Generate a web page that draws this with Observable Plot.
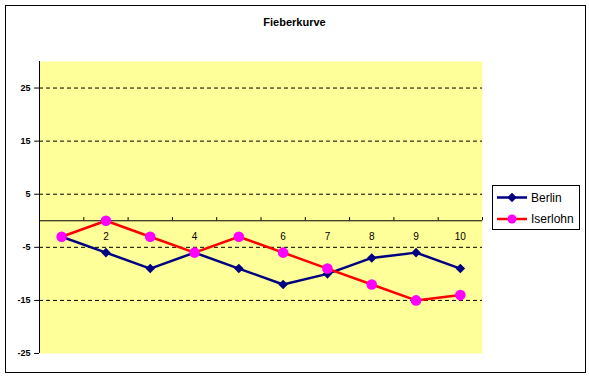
<!DOCTYPE html>
<html>
<head>
<meta charset="utf-8">
<script src="https://cdn.jsdelivr.net/npm/d3@7"></script>
<script src="https://cdn.jsdelivr.net/npm/@observablehq/plot@0.6"></script>
<style>
  html, body { margin: 0; padding: 0; background: #fff; }
  #wrap { position: relative; width: 589px; height: 378px; font-family: "Liberation Sans", Arial, sans-serif; }
  #border { position: absolute; left: 5px; top: 5px; width: 581px; height: 368px; box-sizing: border-box; border: 1px solid #000; pointer-events: none; }
  #title { position: absolute; left: 0; width: 589px; top: 16px; text-align: center; font-size: 11px; font-weight: bold; color: #000; }
  #legend { position: absolute; left: 492px; top: 185px; width: 88px; height: 45px; box-sizing: border-box; border: 1px solid #000; background: #fff; }
  #legend svg { position: absolute; left: 0; top: 0; }
  #chart { position: absolute; left: 0; top: 0; }
</style>
</head>
<body>
<div id="wrap">
  <div id="chart"></div>
  <div id="border"></div>
  <div id="title">Fieberkurve</div>
  <div id="legend"></div>
</div>
<script>
const categories = [1, 2, 3, 4, 5, 6, 7, 8, 9, 10];
const berlin   = [-3, -6, -9, -6, -9, -12, -10, -7, -6, -9];
const iserlohn = [-3, 0, -3, -6, -3, -6, -9, -12, -15, -14];
const yTicks = [-25, -15, -5, 5, 15, 25];
const gridLines = [-15, -5, 5, 15, 25];
const seriesNames = ["Berlin", "Iserlohn"];
const colors = { Berlin: { line: "#000080", marker: "#000080" }, Iserlohn: { line: "#ff0000", marker: "#ff00ff" } };

const bData = categories.map((c, i) => ({ x: c, y: berlin[i] }));
const iData = categories.map((c, i) => ({ x: c, y: iserlohn[i] }));
const boundaries = categories.slice(0, -1).map(c => c + 0.5);

const font = "Liberation Sans, Arial, sans-serif";

const plot = Plot.plot({
  width: 589,
  height: 378,
  marginLeft: 39,
  marginRight: 107,
  marginTop: 61,
  marginBottom: 25,
  style: { fontFamily: font, background: "transparent", overflow: "visible" },
  x: { domain: [0.5, 10.5], axis: null },
  y: { domain: [-25, 30], axis: null },
  marks: [
    Plot.frame({ fill: "#ffff99", stroke: null }),
    Plot.ruleY(gridLines, { stroke: "#000", strokeDasharray: "4,3", strokeWidth: 1 }),
    Plot.ruleY([0], { stroke: "#000", strokeWidth: 1 }),
    Plot.ruleX(boundaries.concat([10.5]), { x: d => d, y1: 0, y2: 0.6, stroke: "#000" }),
    Plot.ruleX([0.5], { stroke: "#000", strokeWidth: 1 }),
    Plot.ruleY(yTicks, { y: d => d, x1: 0.5 - 0.11, x2: 0.5, stroke: "#000", clip: false }),
    Plot.text(yTicks, { y: d => d, x: 0.5, dx: -9, textAnchor: "end", text: d => String(d), fontSize: 9, fontWeight: "bold", fill: "#000" }),
    Plot.text(categories, { x: d => d, y: 0, dy: 16, text: d => String(d), fontSize: 10, fill: "#000" }),
    Plot.line(bData, { x: "x", y: "y", stroke: colors.Berlin.line, strokeWidth: 2.5 }),
    Plot.dot(bData, { x: "x", y: "y", symbol: "diamond2", r: 4.3, fill: colors.Berlin.marker, stroke: null }),
    Plot.line(iData, { x: "x", y: "y", stroke: colors.Iserlohn.line, strokeWidth: 2.5 }),
    Plot.dot(iData, { x: "x", y: "y", r: 5.3, fill: colors.Iserlohn.marker, stroke: null })
  ]
});
document.getElementById("chart").appendChild(plot);

// legend
const lg = d3.select("#legend").append("svg").attr("width", 88).attr("height", 45);
seriesNames.forEach((name, i) => {
  const yy = 11.5 + i * 21.5;
  lg.append("line").attr("x1", 4).attr("x2", 34).attr("y1", yy).attr("y2", yy)
    .attr("stroke", colors[name].line).attr("stroke-width", 2.5);
  if (name === "Berlin") {
    lg.append("path").attr("d", d3.symbol(d3.symbolDiamond2, 4.3 * 4.3 * Math.PI)())
      .attr("transform", `translate(19,${yy})`).attr("fill", colors[name].marker);
  } else {
    lg.append("circle").attr("cx", 19).attr("cy", yy).attr("r", 4.5).attr("fill", colors[name].marker);
  }
  lg.append("text").attr("x", 38).attr("y", yy + 4.3).text(name)
    .attr("font-family", font).attr("font-size", 12).attr("fill", "#000");
});
</script>
</body>
</html>
